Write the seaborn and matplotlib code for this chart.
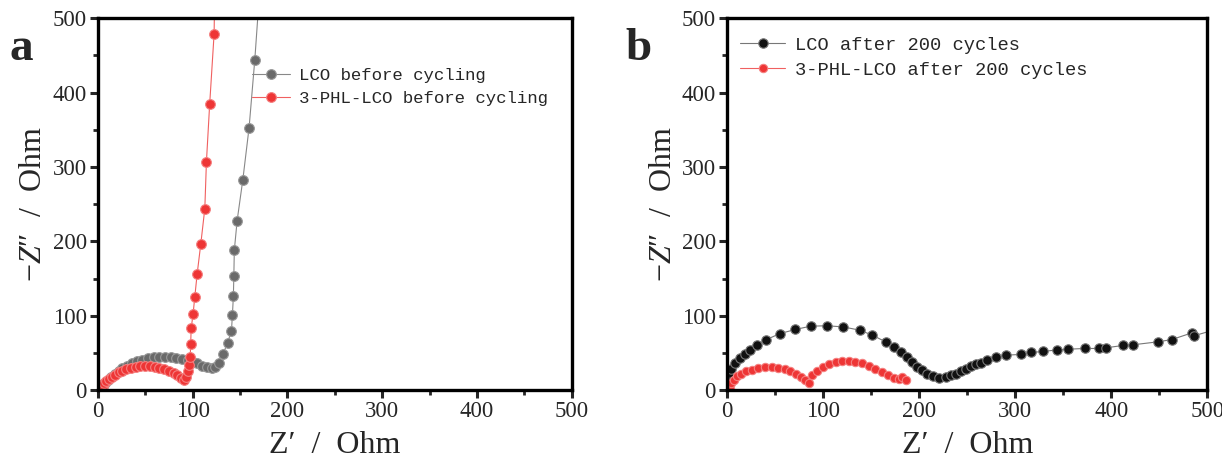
import numpy as np
import pandas as pd
import matplotlib
matplotlib.use("Agg")
import matplotlib.pyplot as plt
import seaborn as sns

# ---------------- data ----------------
# Panel a: before cycling
lco_before_x = [3, 5, 8, 11, 14, 18, 22, 26, 31, 36, 41, 47, 53, 59, 65, 71, 77, 83, 89,
                95, 100, 105, 110, 115, 120, 124, 128, 132, 137, 141, 142, 143, 143.5,
                144, 147, 153, 159.6, 165.6, 172]
lco_before_y = [2, 6, 10, 14, 18, 22, 26, 30, 33, 36, 39, 41, 43, 44, 45, 45, 44, 43, 42,
                40, 38, 36, 33, 31, 30, 31, 36, 48, 64, 80, 101, 126, 153,
                188, 228, 283, 353, 444, 560]

phl_before_x = [2, 3, 5, 7, 9, 12, 15, 18, 22, 26, 30, 35, 40, 45, 50, 55, 60, 65, 70,
                75, 80, 84, 88, 91, 93.5, 95, 96.5, 97.5, 98, 98, 98.5, 100.5, 102.3,
                104.8, 108.6, 112.9, 114.6, 118, 122.7, 124]
phl_before_y = [0, 3, 6, 9, 12, 15, 18, 21, 24, 26, 28, 30, 31, 32, 32, 32, 31, 30, 28,
                26, 23, 20, 16, 13, 18, 26, 34, 45, 56, 69, 83, 102, 125,
                156, 196, 244, 307, 384, 479, 600]

# Panel b: after 200 cycles
lco_after_x = [1, 1.5, 2, 4.5, 8.7, 13, 18.5, 23.7, 30.7, 41, 55, 71, 87, 104, 121, 138,
               151, 165, 174, 181, 187.6, 193, 198, 203, 208.5, 214, 221, 228, 233, 238,
               244, 249, 254, 259, 264, 271, 280, 290.5, 306, 316.6, 329, 343, 355,
               372.5, 387.5, 395, 412, 423, 449, 463, 484, 486, 510]
lco_after_y = [10, 16, 23, 29, 35.8, 42.6, 48, 53.8, 60.5, 68, 76, 81.5, 86, 86.5, 85, 80.6,
               74, 65, 58, 51.5, 44, 38, 31, 27, 22, 19, 16.5, 17, 19.7, 22,
               26, 29, 32, 34.5, 36.7, 40, 44, 47, 48, 50.6, 52, 54, 55,
               56, 56, 57, 60, 61, 65, 68, 77, 73, 82]

phl_after_x = [3, 4.5, 7.3, 10.8, 15, 20, 26, 32.5, 39.5, 46.5, 53.5, 60, 65.6, 71.5, 77,
               81, 85, 88.3, 93.6, 99.5, 106, 113, 120, 126.6, 133.6, 140.5, 147.5,
               154.5, 161.5, 167.8, 173.6, 179, 182.3, 186]
phl_after_y = [2, 9, 14, 19, 22, 26, 27.6, 30, 31, 31, 30.3, 29, 26, 22, 18,
               13.4, 9, 20, 26, 31, 35, 37.6, 39, 39, 38, 36, 32.7,
               29, 24.6, 20, 16.5, 14.8, 17, 13.4]

legend_a = ["LCO before cycling", "3-PHL-LCO before cycling"]
legend_b = ["LCO after 200 cycles", "3-PHL-LCO after 200 cycles"]
ticks = [0, 100, 200, 300, 400, 500]

# ---------------- style ----------------
sns.set_theme(style="ticks")
plt.rcParams['font.family'] = ['Liberation Serif', 'DejaVu Serif']
plt.rcParams['mathtext.fontset'] = 'custom'
plt.rcParams['mathtext.it'] = 'Liberation Serif:italic'
plt.rcParams['mathtext.rm'] = 'Liberation Serif'

fig = plt.figure(figsize=(12.22, 4.65), dpi=100)
ax_a = fig.add_axes([0.080, 0.161, 0.388, 0.800])
ax_b = fig.add_axes([0.595, 0.161, 0.393, 0.800])


def draw(ax, x, y, mfc, mec, ms, lc, label):
    df = pd.DataFrame({"x": x, "y": y})
    sns.lineplot(data=df, x="x", y="y", ax=ax, sort=False, color=lc, lw=0.8,
                 marker="o", markersize=ms, markerfacecolor=mfc,
                 markeredgecolor=mec, markeredgewidth=0.8, label=label)


draw(ax_a, lco_before_x, lco_before_y, "#6a6a6a", "#9a9a9a", 7.0, "#888888", legend_a[0])
draw(ax_a, phl_before_x, phl_before_y, "#ee3535", "#f58080", 7.0, "#f06060", legend_a[1])
draw(ax_b, lco_after_x, lco_after_y, "#111111", "#777777", 6.8, "#777777", legend_b[0])
draw(ax_b, phl_after_x, phl_after_y, "#ee3535", "#f58080", 6.0, "#f06060", legend_b[1])

for ax, letter, lx in ((ax_a, "a", 0.008), (ax_b, "b", 0.512)):
    ax.set_xlim(0, 500)
    ax.set_ylim(0, 500)
    ax.set_xticks(ticks)
    ax.set_yticks(ticks)
    ax.set_xticks(np.arange(50, 500, 100), minor=True)
    ax.set_yticks(np.arange(50, 500, 100), minor=True)
    ax.tick_params(which="major", direction="out", length=6, width=2.2, labelsize=16.5,
                   pad=2)
    ax.tick_params(which="minor", direction="out", length=3.5, width=2.0)
    for s in ax.spines.values():
        s.set_linewidth(2.4)
        s.set_color("black")
    ax.set_xlabel("Z\u2032  /  Ohm", fontsize=23, labelpad=6)
    ax.set_ylabel("$-Z\u2033$  /  Ohm", fontsize=23, labelpad=3)
    fig.text(lx, 0.87, letter, fontsize=34, fontweight="bold")

leg_a = ax_a.legend(loc="upper left", bbox_to_anchor=(0.30, 0.90), frameon=False,
                    prop={"family": "Liberation Mono", "size": 12.5},
                    handlelength=2.2, handletextpad=0.5, labelspacing=0.45,
                    borderpad=0.2)
leg_b = ax_b.legend(loc="upper left", bbox_to_anchor=(0.0, 0.985), frameon=False,
                    prop={"family": "Liberation Mono", "size": 13.5},
                    handlelength=2.4, handletextpad=0.5, labelspacing=0.4,
                    borderpad=0.2)

fig.savefig("out.png", dpi=100)
